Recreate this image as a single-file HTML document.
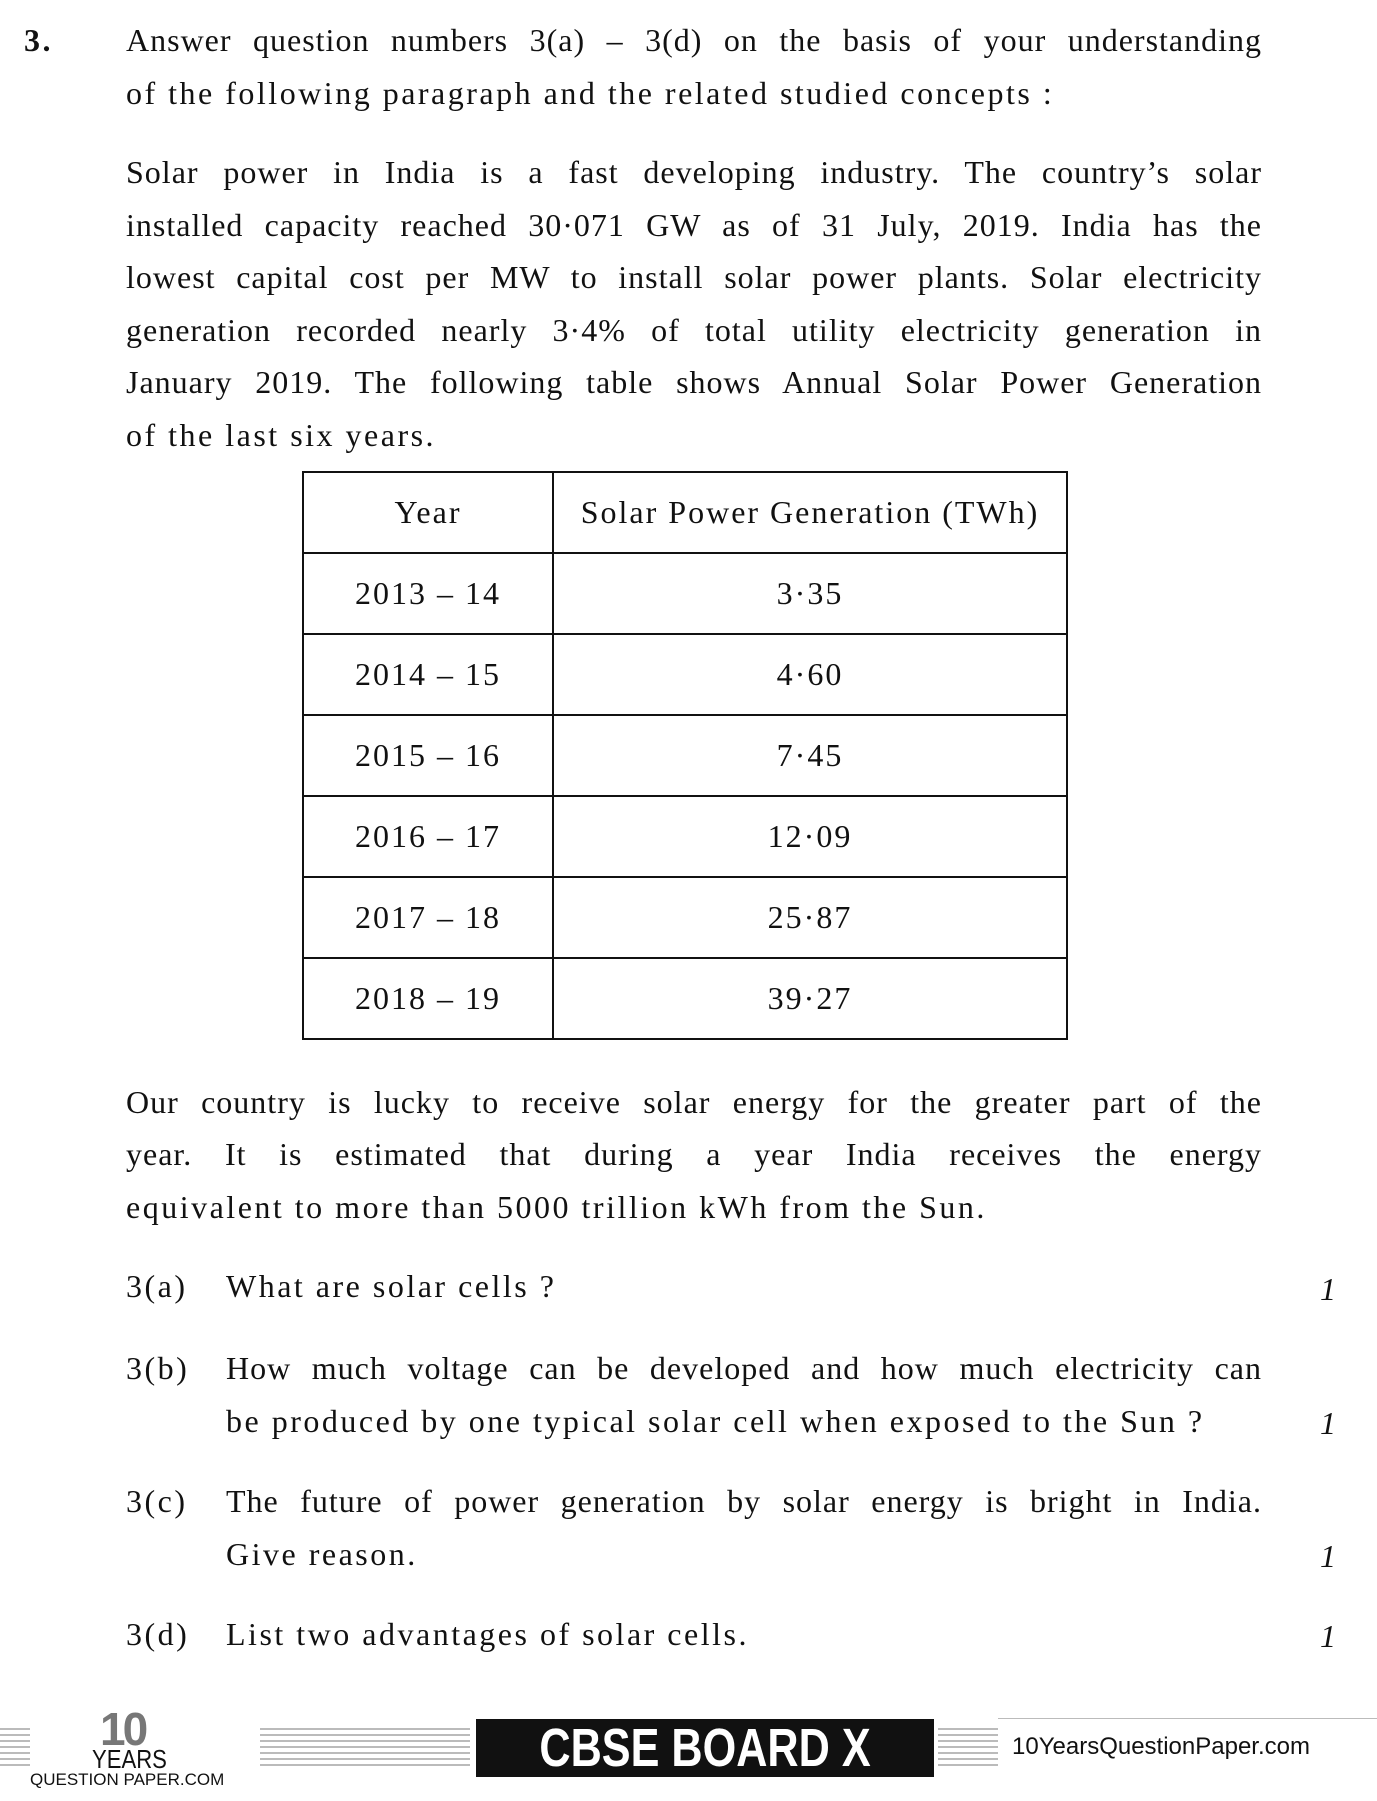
<!DOCTYPE html>
<html><head><meta charset="utf-8"><style>
body{margin:0;background:#fff;}
#p{position:relative;width:1377px;height:1801px;overflow:hidden;font-family:"Liberation Serif",serif;font-size:32px;color:#111;letter-spacing:2.5px;}
.l{position:absolute;left:126px;width:1136px;line-height:40px;white-space:nowrap;}
.j{text-align:justify;text-align-last:justify;white-space:normal;height:40px;overflow:hidden;letter-spacing:1px;}
.q{left:226px;width:1036px;}
.lab{position:absolute;left:126px;line-height:40px;}
.m{position:absolute;left:1320px;font-style:italic;line-height:40px;}
table{position:absolute;left:302px;top:471px;width:766px;border-collapse:collapse;}
td{border:2px solid #111;height:79px;text-align:center;padding:0;font-size:32px;letter-spacing:2px;}
</style></head><body><div id="p">
<div class="lab" style="left:24px;top:20px;font-weight:bold">3.</div>
<div class="l j" style="top:20px">Answer question numbers 3(a) – 3(d) on the basis of your understanding</div>
<div class="l" style="top:73px">of the following paragraph and the related studied concepts :</div>
<div class="l j" style="top:152px">Solar power in India is a fast developing industry. The country’s solar</div>
<div class="l j" style="top:205px">installed capacity reached 30·071 GW as of 31 July, 2019. India has the</div>
<div class="l j" style="top:257px">lowest capital cost per MW to install solar power plants. Solar electricity</div>
<div class="l j" style="top:310px">generation recorded nearly 3·4% of total utility electricity generation in</div>
<div class="l j" style="top:362px">January 2019. The following table shows Annual Solar Power Generation</div>
<div class="l" style="top:415px">of the last six years.</div>
<table>
<tr><td style="width:248px">Year</td><td>Solar Power Generation (TWh)</td></tr>
<tr><td>2013 – 14</td><td>3·35</td></tr>
<tr><td>2014 – 15</td><td>4·60</td></tr>
<tr><td>2015 – 16</td><td>7·45</td></tr>
<tr><td>2016 – 17</td><td>12·09</td></tr>
<tr><td>2017 – 18</td><td>25·87</td></tr>
<tr><td>2018 – 19</td><td>39·27</td></tr>
</table>
<div class="l j" style="top:1082px">Our country is lucky to receive solar energy for the greater part of the</div>
<div class="l j" style="top:1134px">year. It is estimated that during a year India receives the energy</div>
<div class="l" style="top:1187px">equivalent to more than 5000 trillion kWh from the Sun.</div>
<div class="lab" style="top:1266px">3(a)</div><div class="l q" style="top:1266px">What are solar cells ?</div><div class="m" style="top:1269px">1</div>
<div class="lab" style="top:1348px">3(b)</div><div class="l q j" style="top:1348px">How much voltage can be developed and how much electricity can</div>
<div class="l q" style="top:1401px">be produced by one typical solar cell when exposed to the Sun ?</div><div class="m" style="top:1403px">1</div>
<div class="lab" style="top:1481px">3(c)</div><div class="l q j" style="top:1481px">The future of power generation by solar energy is bright in India.</div>
<div class="l q" style="top:1534px">Give reason.</div><div class="m" style="top:1536px">1</div>
<div class="lab" style="top:1614px">3(d)</div><div class="l q" style="top:1614px">List two advantages of solar cells.</div><div class="m" style="top:1616px">1</div>
<div style="position:absolute;left:0;top:1728px;width:30px;height:40px;background:repeating-linear-gradient(#bbb 0 2px,#fff 2px 6px)"></div>
<div style="position:absolute;left:260px;top:1728px;width:210px;height:40px;background:repeating-linear-gradient(#bbb 0 2px,#fff 2px 6px)"></div>
<div style="position:absolute;left:938px;top:1728px;width:60px;height:40px;background:repeating-linear-gradient(#bbb 0 2px,#fff 2px 6px)"></div>
<div style="position:absolute;left:998px;top:1718px;width:379px;height:1px;background:#bbb"></div>
<div style="position:absolute;left:100px;top:1702px;font:bold 46px 'Liberation Sans',sans-serif;color:#777;letter-spacing:-3px">10</div>
<div style="position:absolute;left:92px;top:1744px;font:26px 'Liberation Sans',sans-serif;letter-spacing:0;transform:scaleX(0.85);transform-origin:left">YEARS</div>
<div style="position:absolute;left:30px;top:1770px;font:17px 'Liberation Sans',sans-serif;letter-spacing:0">QUESTION PAPER.COM</div>
<div style="position:absolute;left:476px;top:1719px;width:458px;height:58px;background:#111;color:#fff;font:bold 54px 'Liberation Sans',sans-serif;letter-spacing:0;line-height:58px;text-align:center"><span style="display:inline-block;transform:scaleX(0.8)">CBSE BOARD X</span></div>
<div style="position:absolute;left:1012px;top:1733px;font:24px 'Liberation Sans',sans-serif;letter-spacing:0">10YearsQuestionPaper.com</div>
</div></body></html>
